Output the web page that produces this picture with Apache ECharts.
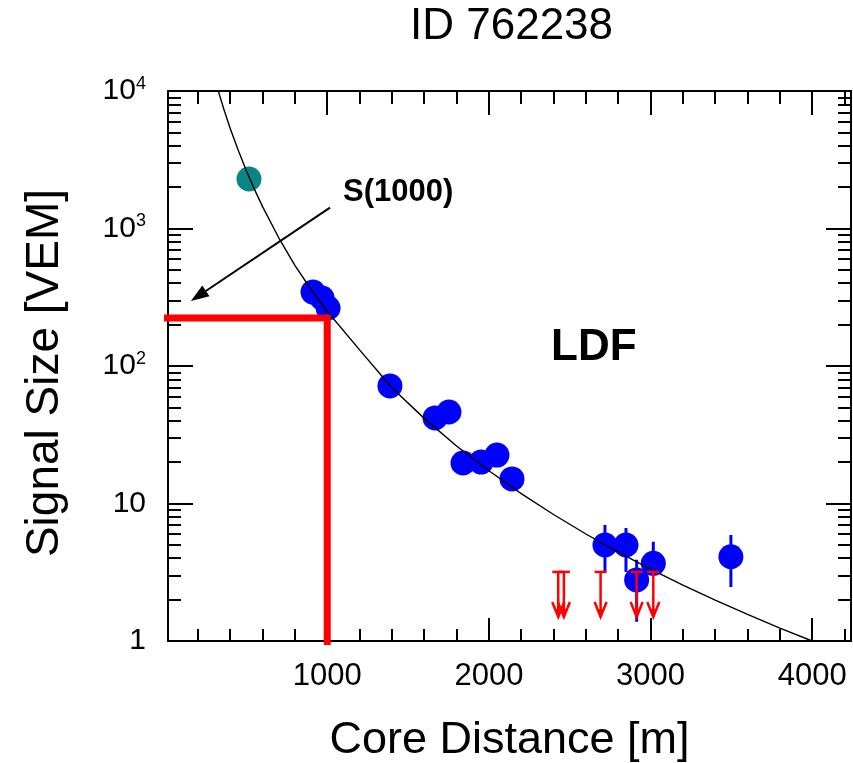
<!DOCTYPE html>
<html><head><meta charset="utf-8">
<script src="https://cdn.jsdelivr.net/npm/echarts@6/dist/echarts.min.js"></script>
<style>html,body{margin:0;padding:0;background:#fff}#c{width:853px;height:763px}</style>
</head><body><div id="c"></div>
<script>
const chartTitle = 'ID 762238';
const xName = 'Core Distance [m]';
const yName = 'Signal Size [VEM]';
const xMajorTicks = [1000, 2000, 3000, 4000];
const xMinorTicks = [200, 400, 600, 800, 1200, 1400, 1600, 1800, 2200, 2400, 2600, 2800, 3200, 3400, 3600, 3800, 4200];
const yMinorTicks = [2,3,4,5,6,7,8,9,20,30,40,50,60,70,80,90,200,300,400,500,600,700,800,900,2000,3000,4000,5000,6000,7000,8000,9000];
const yTickLabels = [['1',''], ['10',''], ['10','2'], ['10','3'], ['10','4']];

// LDF fit curve
const fitR = [320, 360, 400, 450, 500, 550, 600, 700, 800, 900, 1000, 1200, 1400, 1600, 1800, 2000, 2200, 2400, 2600, 2800, 3000, 3200, 3400, 3600, 3800, 4000];
const fitS = [10570, 7390, 5340, 3690, 2630, 1925, 1443, 856, 539, 360, 250, 131, 69.4, 41.6, 26.2, 17.3, 11.8, 8.32, 6.00, 4.43, 3.33, 2.55, 1.98, 1.56, 1.24, 1.0];

// saturated / teal station
const tealR = [516];
const tealS = [2290];

// stations
const ptR = [912, 968, 1005, 1388, 1667, 1753, 1840, 1952, 2050, 2143, 2718, 2848, 2914, 3017, 3497];
const ptS = [345, 312, 264, 71.6, 41.9, 46.3, 19.7, 20.0, 22.5, 15.1, 4.99, 4.99, 2.78, 3.67, 4.10];

// visible error bars
const errR  = [2718, 2848, 2914, 3017, 3497];
const errLo = [3.19, 3.18, 1.38, 3.12, 2.47];
const errHi = [6.98, 6.63, 3.90, 5.27, 5.90];

// upper limits (silent stations)
const ulR = [2429, 2464, 2691, 2914, 3017];
const ulS = [3.18, 3.18, 3.18, 3.18, 3.18];

// S(1000) marker lines
const s1000R = [-15, 1000, 1000];
const s1000S = [223, 223, 0.935];

// annotation arrow
const arrowFrom = [1017, 1417];
const arrowTo = [203, 323];

const FONT = 'Liberation Sans, Arial, Helvetica, sans-serif';
const X_MIN = 15, X_MAX = 4240;

const zip = (a, b) => a.map((v, i) => [v, b[i]]);

const baseX = (pos, showLine, ticks, len, labels) => ({
  type: 'value', min: X_MIN, max: X_MAX, position: pos,
  axisLine: {show: showLine, onZero: false, lineStyle: {color: '#000', width: 2}},
  axisTick: {show: true, inside: true, length: len, customValues: ticks, lineStyle: {color: '#000', width: 2}},
  axisLabel: labels ? {show: true, customValues: xMajorTicks, formatter: v => String(v), fontSize: 31, fontFamily: FONT, color: '#000', margin: 20} : {show: false},
  splitLine: {show: false}
});

const majorY = (pos, showLine, labels) => ({
  type: 'log', logBase: 10, min: 1, max: 10000, position: pos,
  axisLine: {show: showLine, onZero: false, lineStyle: {color: '#000', width: 2}},
  axisTick: {show: true, inside: true, length: 25, lineStyle: {color: '#000', width: 2}},
  axisLabel: labels ? {
    show: true, margin: 22,
    formatter: v => {
      const e = Math.round(Math.log10(v));
      const t = yTickLabels[e];
      return t[1] ? '{n|' + t[0] + '}{s|' + t[1] + '}' : '{n|' + t[0] + '}';
    },
    rich: {
      n: {fontSize: 30, fontFamily: FONT, color: '#000', lineHeight: 32},
      s: {fontSize: 18, fontFamily: FONT, color: '#000', verticalAlign: 'top'}
    }
  } : {show: false},
  splitLine: {show: false}
});

const minorY = (pos) => ({
  type: 'value', min: 0, max: 4, position: pos,
  axisLine: {show: false, onZero: false},
  axisTick: {show: true, inside: true, length: 13, customValues: yMinorTicks.map(v => Math.log10(v)), lineStyle: {color: '#000', width: 2}},
  axisLabel: {show: false},
  splitLine: {show: false}
});

const xAxes = [
  Object.assign(baseX('bottom', true, xMajorTicks, 23, true), {
    name: xName, nameLocation: 'middle', nameGap: 77,
    nameTextStyle: {fontSize: 45, fontFamily: FONT, color: '#000'}
  }),
  baseX('bottom', false, xMinorTicks, 12, false),
  baseX('top', true, xMajorTicks, 24, false),
  baseX('top', false, xMinorTicks, 13, false)
];

const yAxes = [
  Object.assign(majorY('left', true, true), {
    name: yName, nameLocation: 'middle', nameGap: 100, nameRotate: 90,
    nameTextStyle: {fontSize: 46, fontFamily: FONT, color: '#000', padding: [0, 14, 0, 0]}
  }),
  minorY('left'),
  majorY('right', true, false),
  minorY('right')
];

const chart = echarts.init(document.getElementById('c'), null, {renderer: 'canvas'});
chart.setOption({
  animation: false,
  backgroundColor: '#fff',
  grid: {left: 168, top: 91, right: 2, bottom: 122, containLabel: false, outerBoundsMode: 'none'},
  xAxis: xAxes,
  yAxis: yAxes,
  graphic: [
    {type: 'text', x: 410, y: 27, style: {text: chartTitle, fontSize: 44, fontFamily: FONT, fill: '#000', align: 'left', verticalAlign: 'middle'}},
    {type: 'text', x: 343, y: 192, z: 100, style: {text: 'S(1000)', fontSize: 31, fontWeight: 'bold', fontFamily: FONT, fill: '#000', align: 'left', verticalAlign: 'middle'}},
    {type: 'text', x: 551, y: 348, z: 100, style: {text: 'LDF', fontSize: 44, fontWeight: 'bold', fontFamily: FONT, fill: '#000', align: 'left', verticalAlign: 'middle'}}
  ],
  series: [
    {
      type: 'custom', name: 'err', z: 2,
      renderItem: (params, api) => {
        const p1 = api.coord([api.value(0), api.value(1)]);
        const p2 = api.coord([api.value(0), api.value(2)]);
        return {type: 'line', shape: {x1: p1[0], y1: p1[1], x2: p2[0], y2: p2[1]}, style: {stroke: '#0000ff', lineWidth: 3}};
      },
      encode: {x: 0, y: [1, 2]},
      data: errR.map((r, i) => [r, errLo[i], errHi[i]])
    },
    {
      type: 'scatter', name: 'stations', z: 3, symbol: 'circle', symbolSize: 25,
      itemStyle: {color: '#0000ff', opacity: 1},
      data: zip(ptR, ptS)
    },
    {
      type: 'scatter', name: 'teal', z: 3, symbol: 'circle', symbolSize: 25,
      itemStyle: {color: '#098585', opacity: 1},
      data: zip(tealR, tealS)
    },
    {
      type: 'line', name: 'LDF', z: 4, symbol: 'none', smooth: false, clip: true,
      lineStyle: {color: '#000', width: 1.4},
      data: zip(fitR, fitS)
    },
    {
      type: 'custom', name: 'upper', z: 5,
      renderItem: (params, api) => {
        const p = api.coord([api.value(0), api.value(1)]);
        const x = p[0], y = p[1], L = 45;
        return {type: 'group', children: [
          {type: 'line', shape: {x1: x - 6, y1: y, x2: x + 6, y2: y}, style: {stroke: '#ff0000', lineWidth: 2.5}},
          {type: 'line', shape: {x1: x, y1: y, x2: x, y2: y + L}, style: {stroke: '#ff0000', lineWidth: 2.5}},
          {type: 'polyline', shape: {points: [[x - 6, y + L - 15], [x, y + L], [x + 6, y + L - 15]]}, style: {stroke: '#ff0000', lineWidth: 2.5, fill: null}},
          {type: 'polygon', shape: {points: [[x - 3, y + L - 8], [x, y + L], [x + 3, y + L - 8]]}, style: {fill: '#ff0000'}}
        ]};
      },
      encode: {x: 0, y: 1},
      data: zip(ulR, ulS)
    },
    {
      type: 'line', name: 'S1000', z: 6, symbol: 'none', clip: false,
      lineStyle: {color: '#ff0000', width: 7, join: 'miter', cap: 'butt'},
      data: zip(s1000R, s1000S),
      markLine: {
        silent: true, animation: false,
        symbol: ['none', 'triangle'], symbolSize: [13, 18],
        label: {show: false},
        lineStyle: {color: '#000', width: 2, type: 'solid'},
        emphasis: {disabled: true},
        data: [[{coord: arrowFrom}, {coord: arrowTo}]]
      }
    }
  ]
});
</script>
</body></html>
